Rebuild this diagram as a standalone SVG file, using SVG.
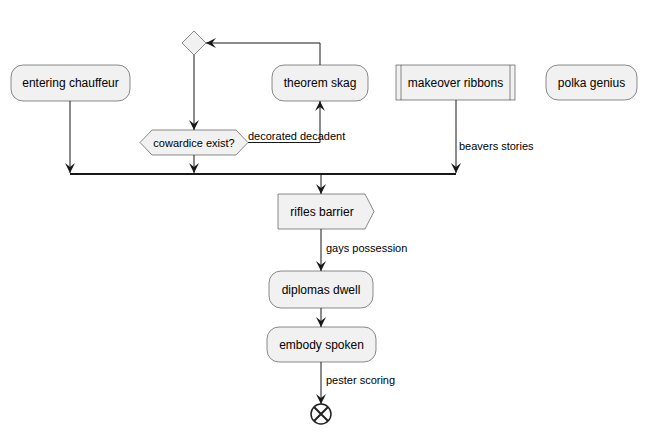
<svg xmlns="http://www.w3.org/2000/svg" width="646" height="434" viewBox="0 0 646 434">
<defs>
<style>
.n{fill:#F1F1F1;stroke:#181818;stroke-width:0.5}
.t{font-family:"Liberation Sans",Arial,sans-serif;font-size:12px;fill:#000}
.l{font-family:"Liberation Sans",Arial,sans-serif;font-size:11px;fill:#000}
.c{fill:none;stroke:#181818;stroke-width:1}
</style>
<marker id="a" markerUnits="userSpaceOnUse" markerWidth="10" markerHeight="10" refX="10" refY="5" orient="auto" viewBox="0 0 10 10">
<path d="M0,0 L10,5 L0,10 L4,5 Z" fill="#181818"/>
</marker>
</defs>
<rect width="646" height="434" fill="#fff"/>
<g id="merge"><polygon class="n" points="194,31 206,43 194,55 182,43"/></g>
<g id="entering"><rect class="n" x="11" y="65" width="119" height="36" rx="12"/><text class="t" x="70.5" y="87" text-anchor="middle">entering chauffeur</text></g>
<g id="theorem"><rect class="n" x="272" y="65" width="96" height="36" rx="12"/><text class="t" x="320" y="87" text-anchor="middle">theorem skag</text></g>
<g id="makeover"><rect class="n" x="396" y="65" width="119" height="35"/><line class="n" x1="401" y1="65" x2="401" y2="100"/><line class="n" x1="510" y1="65" x2="510" y2="100"/><text class="t" x="455.5" y="87" text-anchor="middle">makeover ribbons</text></g>
<g id="polka"><rect class="n" x="546" y="65" width="91" height="35" rx="12"/><text class="t" x="591.5" y="87" text-anchor="middle">polka genius</text></g>
<g id="cowardice"><polygon class="n" points="140,142.5 152,130 236,130 248,142.5 236,155 152,155"/><text class="t" x="194" y="147" text-anchor="middle" style="font-size:11px">cowardice exist?</text></g>
<g id="bar"><rect x="70" y="173" width="386" height="2" fill="#181818"/></g>
<g id="rifles"><polygon class="n" points="278,194 365,194 374,211.5 365,229 278,229"/><text class="t" x="322" y="216" text-anchor="middle">rifles barrier</text></g>
<g id="diplomas"><rect class="n" x="269" y="271" width="104" height="37" rx="12"/><text class="t" x="321" y="294" text-anchor="middle">diplomas dwell</text></g>
<g id="embody"><rect class="n" x="267" y="327" width="109" height="35" rx="12"/><text class="t" x="321.5" y="349" text-anchor="middle">embody spoken</text></g>
<g id="end"><circle cx="321" cy="414" r="10" fill="#fff" stroke="#222" stroke-width="1.5"/><path d="M314,407 L328,421 M328,407 L314,421" stroke="#222" stroke-width="2"/></g>
<g id="connectors">
<path class="c" d="M194,55 L194,130" marker-end="url(#a)"/>
<path class="c" d="M248,142.5 L320,142.5 L320,101" marker-end="url(#a)"/>
<path class="c" d="M320,65 L320,43 L206,43" marker-end="url(#a)"/>
<path class="c" d="M194,155 L194,173" marker-end="url(#a)"/>
<path class="c" d="M70,101 L70,173" marker-end="url(#a)"/>
<path class="c" d="M456,100 L456,173" marker-end="url(#a)"/>
<path class="c" d="M321,175 L321,194" marker-end="url(#a)"/>
<path class="c" d="M321,229 L321,271" marker-end="url(#a)"/>
<path class="c" d="M321,308 L321,327" marker-end="url(#a)"/>
<path class="c" d="M321,362 L321,404" marker-end="url(#a)"/>
<text class="l" x="248" y="140">decorated decadent</text>
<text class="l" x="459" y="150">beavers stories</text>
<text class="l" x="326" y="252">gays possession</text>
<text class="l" x="326" y="384">pester scoring</text>
</g>
</svg>
